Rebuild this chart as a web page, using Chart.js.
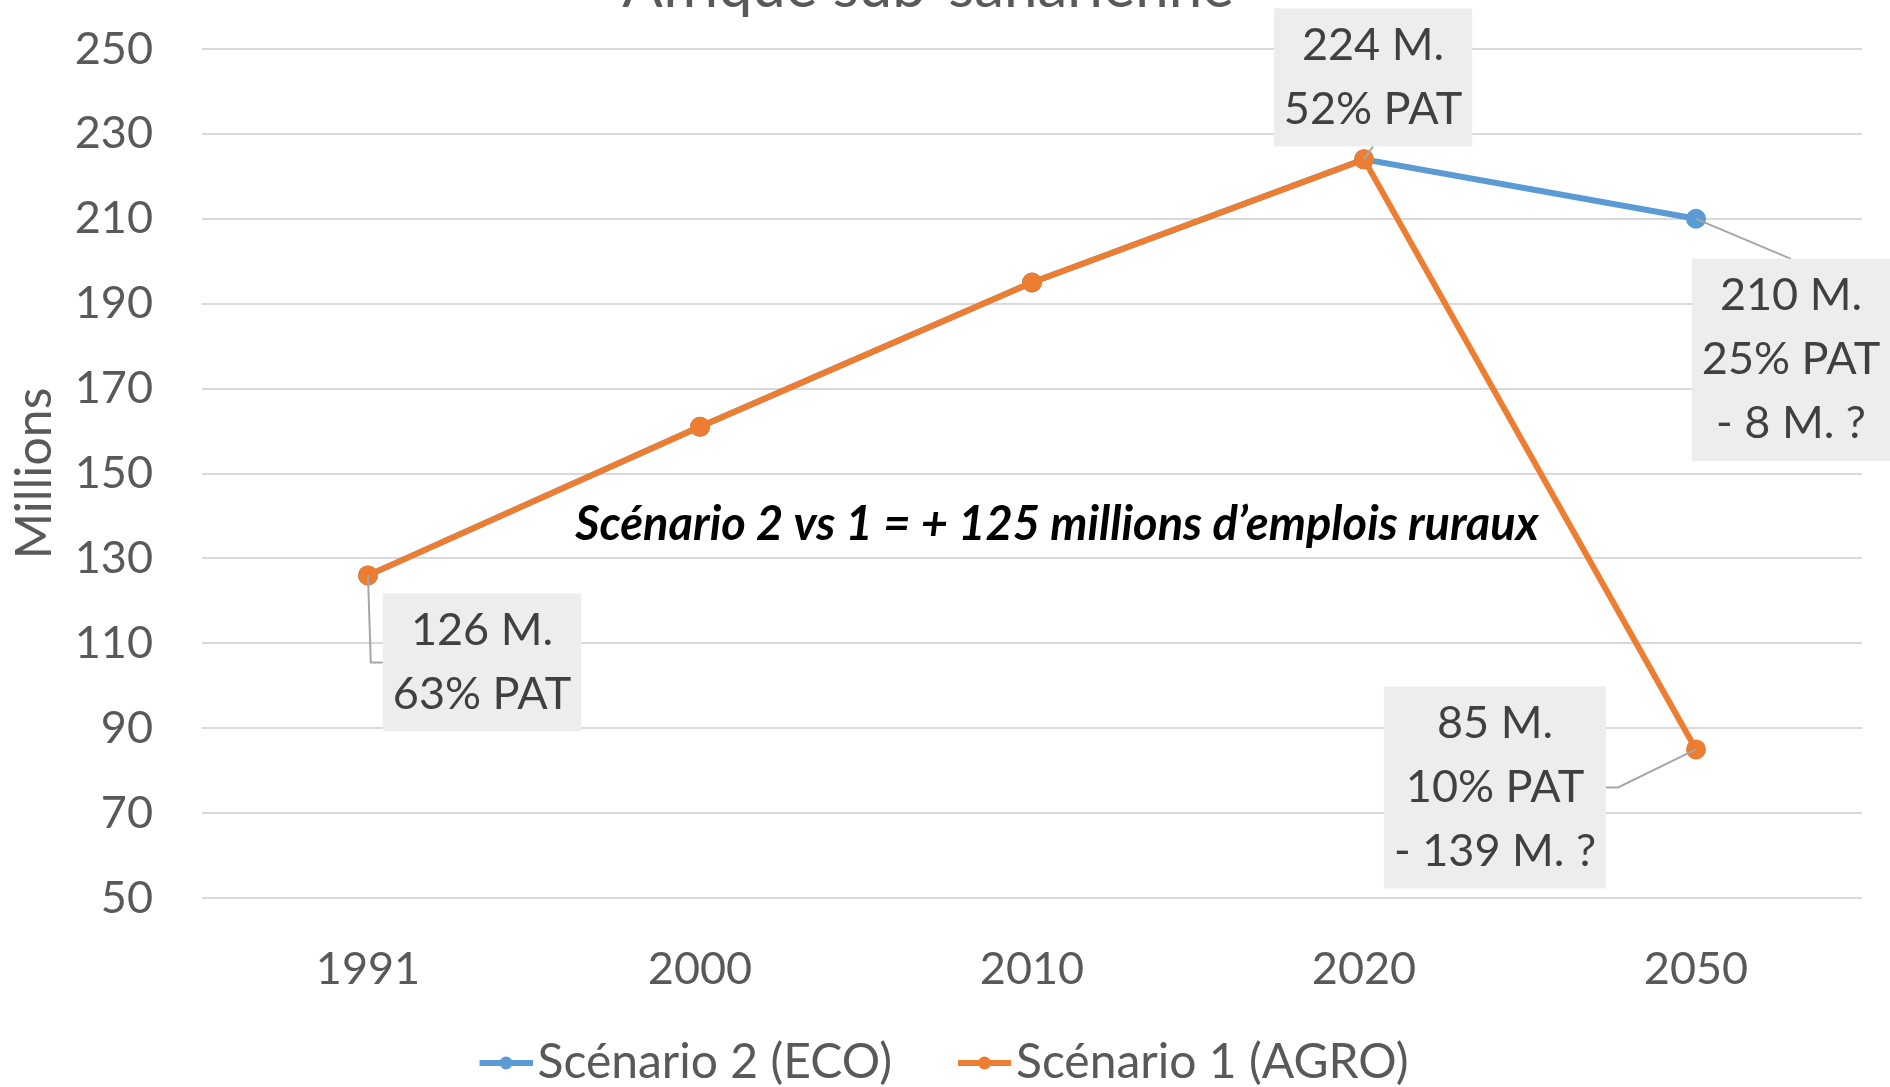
<!DOCTYPE html>
<html lang="fr">
<head>
<meta charset="utf-8">
<title>Afrique sub-saharienne</title>
<script src="https://cdn.jsdelivr.net/npm/chart.js@4.4.1/dist/chart.umd.min.js"></script>
<style>
  html, body { margin: 0; padding: 0; background: #fff; }
</style>
</head>
<body>
<canvas id="chart" width="1890" height="1087"></canvas>

<script>
// data
var years = ['1991', '2000', '2010', '2020', '2050'];
var eco = [126, 161, 195, 224, 210];      // Scénario 2 (ECO)
var agro = [126, 161, 195, 224, 85];      // Scénario 1 (AGRO)
var yMin = 50, yMax = 250, yStep = 20;
var chartTitle = 'Afrique sub-saharienne';
var comment = 'Scénario 2 vs 1 = + 125 millions d’emplois ruraux';
var ecoNotes = [null, null, null, null, ['210 M.', '25% PAT', '- 8 M. ?']];
var agroNotes = [['126 M.', '63% PAT'], null, null, ['224 M.', '52% PAT'], ['85 M.', '10% PAT', '- 139 M. ?']];

// where each note box sits, relative to its point (pixels)
var ecoNoteShift = [null, null, null, null, [95, 141]];
var agroNoteShift = [[114, 87], null, null, [9, -82], [-201, 38]];

var FONT = 'Lato, "Noto Sans", sans-serif';
var BLUE = '#5B9BD5', ORANGE = '#ED7D31';

// legend marker: line with a dot, pushed to the right of its box
function legendMark(color) {
  var c = document.createElement('canvas');
  c.width = 98; c.height = 14;
  var g = c.getContext('2d');
  g.strokeStyle = color; g.lineWidth = 6;
  g.beginPath(); g.moveTo(45, 7); g.lineTo(98, 7); g.stroke();
  g.fillStyle = color;
  g.beginPath(); g.arc(71.5, 7, 6.5, 0, Math.PI * 2); g.fill();
  return c;
}
var marks = [legendMark(BLUE), legendMark(ORANGE)];

var notesPlugin = {
  id: 'notes',
  afterDatasetsDraw: function(chart) {
    var ctx = chart.ctx;
    var sets = [[0, ecoNotes, ecoNoteShift], [1, agroNotes, agroNoteShift]];
    ctx.save();
    ctx.font = '45px ' + FONT;
    sets.forEach(function(s) {
      var meta = chart.getDatasetMeta(s[0]);
      s[1].forEach(function(lines, j) {
        if (!lines) return;
        var pt = meta.data[j];
        var cx = pt.x + s[2][j][0], cy = pt.y + s[2][j][1];
        var w = 0;
        lines.forEach(function(t) { w = Math.max(w, ctx.measureText(t).width); });
        w += 20;
        var lh = 64;
        var h = lines.length * lh + 10;
        var left = cx - w / 2, top = cy - h / 2, right = cx + w / 2, bottom = cy + h / 2;
        // leader line
        ctx.strokeStyle = '#A6A6A6'; ctx.lineWidth = 2;
        ctx.beginPath();
        ctx.moveTo(pt.x, pt.y);
        if (pt.x < left) { ctx.lineTo(left - 12, cy); ctx.lineTo(left, cy); }
        else if (pt.x > right) { ctx.lineTo(right + 12, cy); ctx.lineTo(right, cy); }
        else if (pt.y < top) { ctx.lineTo(cx, top); }
        else { ctx.lineTo(cx, bottom); }
        ctx.stroke();
        ctx.fillStyle = '#EDEDED';
        ctx.fillRect(left, top, w, h);
        ctx.fillStyle = '#404040';
        ctx.textAlign = 'center';
        ctx.textBaseline = 'middle';
        lines.forEach(function(t, k) {
          ctx.fillText(t, cx, top + 5 + lh * (k + 0.5));
        });
      });
    });
    // comment in the middle of the plot
    var xs = chart.scales.x, ys = chart.scales.y;
    ctx.font = 'italic bold 47px ' + FONT;
    ctx.fillStyle = '#000';
    ctx.textAlign = 'center';
    ctx.textBaseline = 'middle';
    ctx.fillText(comment, xs.getPixelForValue(2.075), ys.getPixelForValue(138));
    // title, cut off by the top edge
    ctx.font = '60px ' + FONT;
    ctx.fillStyle = '#595959';
    ctx.textBaseline = 'alphabetic';
    ctx.fillText(chartTitle, 928, 7);
    ctx.restore();
  }
};

var ctx = document.getElementById('chart').getContext('2d');
var chart = new Chart(ctx, {
  type: 'line',
  data: {
    labels: years,
    datasets: [{
      label: 'Scénario 2 (ECO)',
      data: eco,
      borderColor: BLUE,
      backgroundColor: BLUE,
      borderWidth: 6,
      pointRadius: 7,
      order: 2
    }, {
      label: 'Scénario 1 (AGRO)',
      data: agro,
      borderColor: ORANGE,
      backgroundColor: ORANGE,
      borderWidth: 6,
      pointRadius: 7,
      order: 1
    }]
  },
  options: {
    responsive: false,
    animation: false,
    layout: { padding: { top: 49, right: 28, bottom: -10, left: 0 } },
    scales: {
      x: {
        offset: true,
        grid: { display: false, drawTicks: false },
        border: { display: false },
        ticks: { color: '#595959', font: { family: FONT, size: 45 }, padding: 44 },
        afterFit: function(s) { s.height = 101; }
      },
      y: {
        min: yMin, max: yMax,
        grid: { color: '#D9D9D9', lineWidth: 2, drawTicks: false },
        border: { display: false },
        ticks: { stepSize: yStep, color: '#595959', font: { family: FONT, size: 45 }, padding: 49 },
        title: { display: true, text: 'Millions', color: '#595959', font: { family: FONT, size: 50 }, padding: { top: 5, bottom: 0 } },
        afterFit: function(s) { s.width = 202; s.paddingTop = 27; s.paddingBottom = 27; }
      }
    },
    plugins: {
      tooltip: { enabled: false },
      legend: {
        position: 'bottom',
        labels: {
          color: '#595959',
          font: { family: FONT, size: 48 },
          usePointStyle: true,
          pointStyleWidth: 60,
          padding: 40,
          sort: function(a, b) { return a.datasetIndex - b.datasetIndex; },
          generateLabels: function(c) {
            var items = Chart.defaults.plugins.legend.labels.generateLabels(c);
            items.forEach(function(it) { it.pointStyle = marks[it.datasetIndex]; });
            return items;
          }
        }
      }
    }
  },
  plugins: [notesPlugin]
});
</script>
</body>
</html>
